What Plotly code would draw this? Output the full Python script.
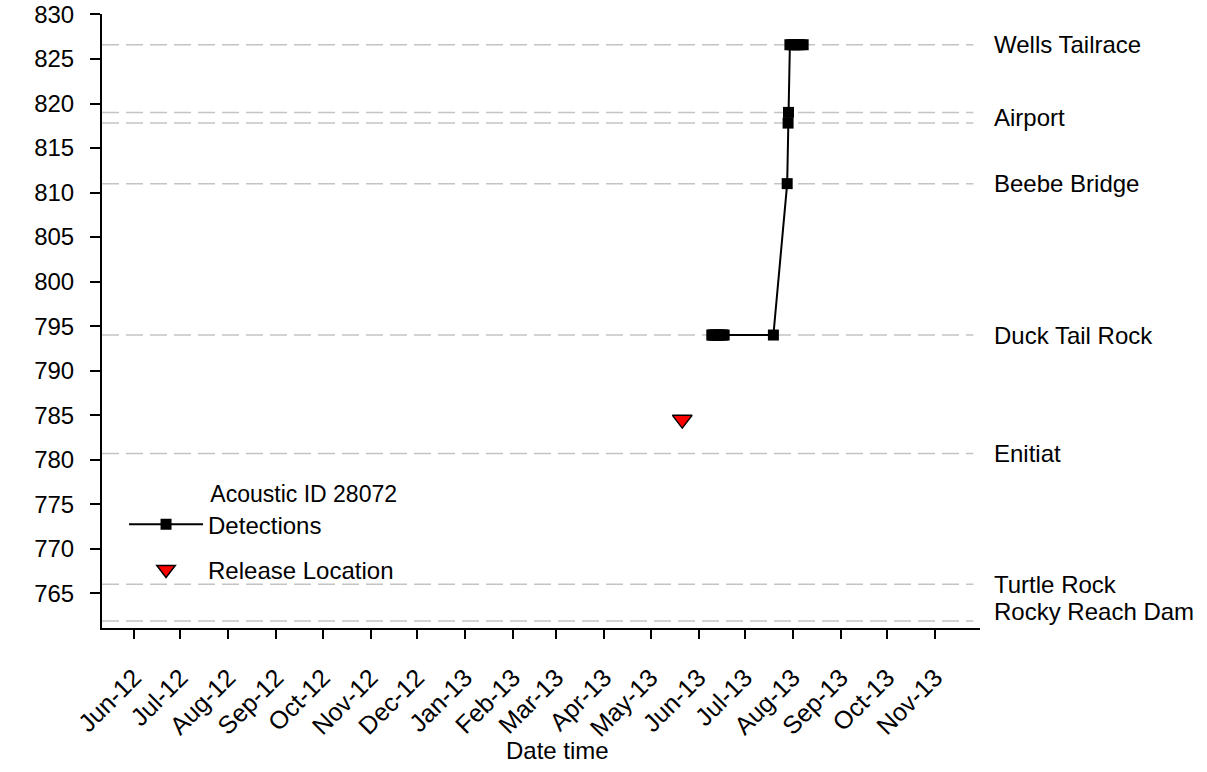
import plotly.graph_objects as go

# Receiver sites along the river (river km)
site_names = ["Wells Tailrace", "Airport", "Airport", "Beebe Bridge",
              "Duck Tail Rock", "Enitiat", "Turtle Rock", "Rocky Reach Dam"]
site_rkm = [826.6, 819.0, 817.8, 811.0, 794.0, 780.7, 766.0, 761.9]
site_line_start = "2012-05-11 08:00"
site_line_end = "2013-11-25 18:00"

# Tag detections for acoustic ID 28072
det_time = [
    "2013-06-09 14:00", "2013-06-10 08:00", "2013-06-11 06:00", "2013-06-12 10:00",
    "2013-06-13 20:00", "2013-06-15 04:00", "2013-06-16 12:00", "2013-06-17 14:00",
    "2013-07-19 10:00", "2013-07-28 08:00", "2013-07-28 22:00", "2013-07-29 04:00",
    "2013-07-30 02:00", "2013-07-31 12:00", "2013-08-02 06:00", "2013-08-04 00:00",
    "2013-08-05 18:00", "2013-08-07 16:00",
]
det_rkm = [
    794.0, 794.0, 794.0, 794.0,
    794.0, 794.0, 794.0, 794.0,
    794.0, 811.0, 817.8, 819.0,
    826.6, 826.6, 826.6, 826.6,
    826.6, 826.6,
]

# Release point
release_time = ["2013-05-21 12:00"]
release_rkm = [784.5]

x_range = ["2012-05-11 08:00", "2013-11-30 00:00"]
y_range = [761.1, 830.05]

FONT = "Liberation Sans, Arial, sans-serif"

fig = go.Figure()

# Dashed site reference lines
line_x, line_y = [], []
for v in site_rkm:
    line_x += [site_line_start, site_line_end, None]
    line_y += [v, v, None]
fig.add_trace(go.Scatter(
    x=line_x, y=line_y, mode="lines", showlegend=False, hoverinfo="skip",
    line=dict(color="#c4c4c4", width=1.5, dash="17px,7px"),
))

fig.add_trace(go.Scatter(
    x=det_time, y=det_rkm, mode="lines+markers", name="Detections",
    legendgroup="a",
    line=dict(color="black", width=2),
    marker=dict(symbol="square", size=11, color="black"),
))

fig.add_trace(go.Scatter(
    x=release_time, y=release_rkm, mode="markers", name="Release Location",
    legendgroup="b",
    marker=dict(symbol="triangle-down", size=17, color="#ff0000",
                line=dict(color="black", width=1.5)),
))

# Site labels on the right-hand side (one per site name)
label_pos = {}
for n, v in zip(site_names, site_rkm):
    label_pos.setdefault(n, []).append(v)
for n, vals in label_pos.items():
    fig.add_annotation(
        x=1, xref="paper", xanchor="left", xshift=12,
        y=sum(vals) / len(vals), yref="y", yanchor="middle",
        yshift=9 if n == "Rocky Reach Dam" else 0,
        text=n, showarrow=False, font=dict(size=24, family=FONT, color="black"),
    )

fig.add_annotation(
    x=0.519, xref="paper", xanchor="center",
    y=-0.2, yref="paper", yanchor="middle",
    text="Date time", showarrow=False,
    font=dict(size=24, family=FONT, color="black"),
)

fig.update_layout(
    width=1207, height=772,
    margin=dict(l=102, r=227, t=14, b=144, autoexpand=False),
    plot_bgcolor="white", paper_bgcolor="white",
    font=dict(family=FONT, size=24, color="black"),
    legend=dict(
        x=0.0251, y=0.2535, xanchor="left", yanchor="top",
        bgcolor="rgba(0,0,0,0)", itemwidth=74,
        font=dict(size=24, family=FONT),
        traceorder="grouped", tracegroupgap=11,
        title=dict(text="Acoustic ID 28072", side="top right",
                   font=dict(size=23, family=FONT)),
    ),
)

fig.update_xaxes(
    type="date", range=x_range, tick0="2012-06-01", dtick="M1",
    tickformat="%b-%y", tickangle=-45, automargin=False,
    ticks="outside", ticklen=9, tickwidth=2, tickcolor="black",
    showline=True, linewidth=2, linecolor="black",
    showgrid=False, zeroline=False, ticklabelstandoff=14,
    tickfont=dict(size=25, family=FONT),
)
fig.update_yaxes(
    range=y_range, tick0=765, dtick=5, automargin=False,
    ticks="outside", ticklen=10, tickwidth=2, tickcolor="black",
    showline=True, linewidth=2, linecolor="black",
    showgrid=False, zeroline=False, ticklabelstandoff=11,
    tickfont=dict(size=24, family=FONT),
)

fig.write_html("out.html")
